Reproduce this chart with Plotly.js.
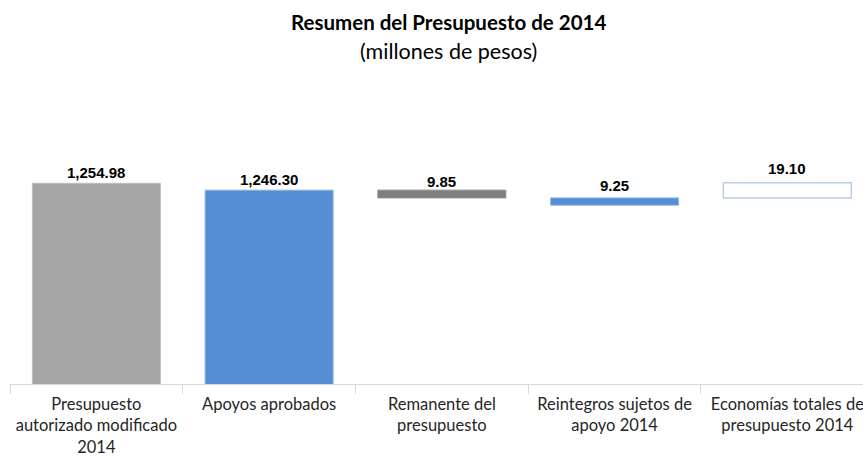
<!DOCTYPE html>
<html>
<head>
<meta charset="utf-8">
<script src="https://cdn.plot.ly/plotly-3.0.1.min.js"></script>
<style>html,body{margin:0;padding:0;background:#fff;}#chart{width:863px;height:457px;}</style>
</head>
<body>
<div id="chart"></div>
<script>
// Data
var categories = [
  "Presupuesto<br>autorizado modificado<br>2014",
  "Apoyos aprobados",
  "Remanente del<br>presupuesto",
  "Reintegros sujetos de<br>apoyo 2014",
  "Economías totales de<br>presupuesto 2014"
];
var values = [1254.98, 1246.30, 9.85, 9.25, 19.10];
var valueLabels = ["1,254.98", "1,246.30", "9.85", "9.25", "19.10"];
// bar bottoms (waterfall style; full bars start at zero)
var bases = [0, 0, 1236.45, 1227.20, 1236.45];

// Styles
var fillColors = ["#A5A5A5", "#558ED5", "#7F7F7F", "#558ED5", "#FFFFFF"];
var lineColors = ["#BFBFBF", "#8EB4E3", "#8C8C8C", "#8EB4E3", "#B9CDE5"];
var lineWidths = [1, 1, 1, 1, 1.5];
var labelShift = [0, 0, -2, 2, 4];

var trace = {
  type: "bar",
  x: categories,
  y: values,
  base: bases,
  width: 0.741,
  marker: {color: fillColors, line: {color: lineColors, width: lineWidths}},
  hoverinfo: "none"
};

var annotations = categories.map(function (c, i) {
  return {
    x: c, y: bases[i] + values[i], xref: "x", yref: "y",
    text: "<b>" + valueLabels[i] + "</b>",
    showarrow: false, yanchor: "bottom", yshift: labelShift[i],
    font: {family: "Liberation Sans, Arial, sans-serif", size: 15, color: "#000"}
  };
});
annotations.push({
  xref: "paper", yref: "paper", x: 0.5135, y: 1.371, yanchor: "middle",
  text: "<b>Resumen del Presupuesto de 2014</b>", showarrow: false,
  font: {family: "Lato, Open Sans, sans-serif", size: 20.5, color: "#000"}
});
annotations.push({
  xref: "paper", yref: "paper", x: 0.5135, y: 1.262, yanchor: "middle",
  text: "(millones de pesos)", showarrow: false,
  font: {family: "Lato, Open Sans, sans-serif", size: 21.5, color: "#000"}
});

var layout = {
  width: 863, height: 457,
  margin: {l: 10, r: 0, t: 120, b: 73},
  paper_bgcolor: "#fff", plot_bgcolor: "#fff",
  showlegend: false,
  xaxis: {
    type: "category", range: [-0.5, 4.438],
    showline: true, linecolor: "#D9D9D9", linewidth: 1,
    ticks: "outside", tickson: "boundaries", ticklen: 9, tickcolor: "#D9D9D9",
    ticklabelstandoff: 5, tickangle: 0,
    showgrid: false, zeroline: false,
    tickfont: {family: "Lato, Open Sans, sans-serif", size: 16.5, color: "#262626"}
  },
  yaxis: {
    range: [1000, 1335.4], visible: false, showgrid: false, zeroline: false, fixedrange: true
  },
  annotations: annotations
};

Plotly.newPlot("chart", [trace], layout, {displayModeBar: false, staticPlot: true});
</script>
</body>
</html>
